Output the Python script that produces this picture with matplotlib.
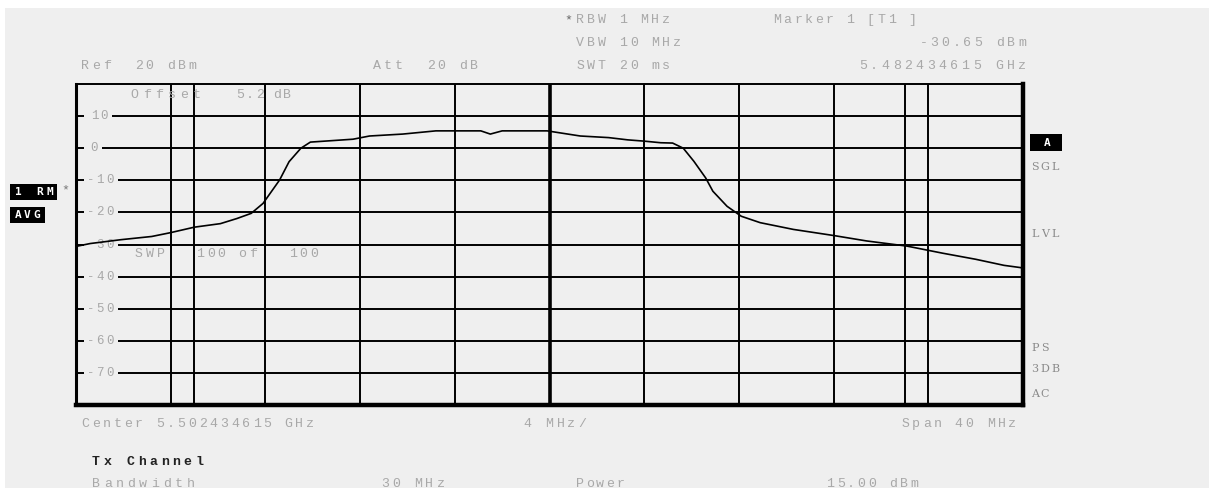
import matplotlib
matplotlib.use("Agg")
import matplotlib.pyplot as plt                                                         # type: ignore
from matplotlib.patches import Rectangle                                                # type: ignore

# Trace data: offset from centre frequency (MHz) and level (dBm)
freq_offset = [-20.0, -19.4, -18.1, -16.8, -16.0, -15.0, -13.9, -13.2, -12.6, -12.1,
               -11.4, -11.0, -10.5, -10.1, -8.3, -7.6, -6.2, -4.8, -2.9, -2.5,
               -2.0, -0.1, 0.6, 1.3, 2.5, 3.3, 4.0, 4.7, 5.2, 5.65,
               6.1, 6.6, 6.9, 7.5, 8.1, 8.9, 10.3, 12.0, 13.4, 15.1,
               16.6, 18.0, 19.2, 19.9, 20.0]
level_dbm = [-30.6, -29.7, -28.5, -27.5, -26.3, -24.6, -23.5, -21.9, -20.3, -17.2,
             -9.9, -4.2, 0.0, 1.9, 2.8, 3.8, 4.4, 5.4, 5.4, 4.4,
             5.4, 5.4, 4.6, 3.8, 3.3, 2.6, 2.2, 1.7, 1.6, 0.0,
             -4.1, -9.3, -13.4, -18.1, -21.2, -23.2, -25.3, -27.2, -28.9, -30.5,
             -32.7, -34.6, -36.5, -37.2, -37.4]

y_levels = [10, 0, -10, -20, -30, -40, -50, -60, -70]
y_labels = ["10", "0", "-10", "-20", "-30", "-40", "-50", "-60", "-70"]
div_lines = [-16, -12, -8, -4, 4, 8, 12, 16]
channel_edges = [-15, 15]

# Layout in pixels
W, H = 1209, 488
L, R, T, B = 76, 1023, 84, 405
BG = "#efefef"
GRAY = "#a8a8a8"
PITCH = 10.7
FS = 9.5

fig = plt.figure(figsize=(W / 100, H / 100), dpi=100, facecolor="white")
fig.add_artist(Rectangle((5 / W, 0), 1, 1 - 8 / H, transform=fig.transFigure,
                         facecolor=BG, edgecolor="none", zorder=-10))

ax = fig.add_axes([L / W, 1 - B / H, (R - L) / W, (B - T) / H])
ax.set_facecolor(BG)
ax.set_xlim(-20, 20)
ax.set_ylim(-80, 20)
ax.set_xticks([])
ax.set_yticks([])
ax.spines["left"].set_linewidth(2.2)
ax.spines["top"].set_linewidth(1.4)
ax.spines["right"].set_linewidth(3.2)
ax.spines["bottom"].set_linewidth(3.2)

for lv in y_levels:
    ax.axhline(lv, color="black", lw=1.4, zorder=1)
for f in div_lines + channel_edges:
    ax.axvline(f, color="black", lw=1.4, zorder=1)
ax.axvline(0, color="black", lw=2.6, zorder=1)

ax.plot(freq_offset, level_dbm, color="black", lw=1.2, zorder=4)


def mono(where, x, y, s, color=GRAY, size=FS, pitch=PITCH, weight="normal",
         family="Liberation Mono", zorder=3):
    """Draw text char by char on a fixed pitch, x/y in pixels from top-left."""
    for i, ch in enumerate(s):
        if ch == " ":
            continue
        where.text((x + (i + 0.5) * pitch) / W, 1 - y / H, ch, transform=fig.transFigure,
                   ha="center", va="center", color=color, fontsize=size,
                   fontweight=weight, family=family, zorder=zorder)


def mask(where, x0, x1, y, h=10):
    where.add_artist(Rectangle((x0 / W, 1 - (y + h / 2) / H), (x1 - x0) / W, h / H,
                               transform=fig.transFigure, facecolor=BG,
                               edgecolor="none", zorder=2))


def box(x0, y0, x1, y1, s, pitch=9.5):
    fig.add_artist(Rectangle((x0 / W, 1 - y1 / H), (x1 - x0) / W, (y1 - y0) / H,
                             transform=fig.transFigure, facecolor="black",
                             edgecolor="none", zorder=2))
    mono(fig, x0 + 3, (y0 + y1) / 2, s, color="white", size=8, pitch=pitch,
         weight="bold", family="DejaVu Sans Mono")


# Y labels inside the grid
for lv, lab in zip(y_levels, y_labels):
    py = B - (lv + 80) / 100 * (B - T)
    x0 = 90 if lab == "10" else (89 if lab == "0" else 86)
    mask(ax, 84, x0 + len(lab) * 9.5 + 3, py)
    mono(ax, x0, py, lab, pitch=9.5, size=9)

# Text inside plot
mono(ax, 128, 95, "Offset", pitch=12.5)
mono(ax, 235, 95, "5.2", pitch=10)
mono(ax, 272, 95, "dB", pitch=10)
mono(ax, 133, 254, "SWP", pitch=11)
mono(ax, 195, 254, "100 of", pitch=10.5)
mono(ax, 288, 254, "100", pitch=10.5)

# Header
mono(fig, 80, 66, "Ref  20 dBm")
mono(fig, 372, 66, "Att  20 dB")
mono(fig, 563, 20, "*", color="#666666")
mono(fig, 575, 20, "RBW 1 MHz")
mono(fig, 575, 43, "VBW 10 MHz")
mono(fig, 575, 66, "SWT 20 ms")
mono(fig, 772, 20, "Marker 1 [T1 ]", pitch=10.4)
mono(fig, 1028 - 10 * 11.0, 43, "-30.65 dBm", pitch=11.0)
mono(fig, 1028 - 15 * 11.4, 66, "5.482434615 GHz", pitch=11.4)

# Left side labels
box(10, 184, 57, 200, "1 RM", pitch=10.5)
mono(fig, 60, 190, "*", color="#777777")
box(10, 207, 45, 223, "AVG", pitch=9.5)

# Right side labels
box(1030, 134, 1062, 151, " A", pitch=9.5)
for lab, py in [("SGL", 167), ("LVL", 234), ("PS", 348), ("3DB", 369), ("AC", 394)]:
    mono(fig, 1030, py, lab, color="#8a8a8a", pitch=10, family="DejaVu Serif", size=8)

# Footer
mono(fig, 80, 424, "Center 5.502434615 GHz")
mono(fig, 522, 424, "4 MHz/", pitch=11)
mono(fig, 900, 424, "Span 40 MHz")
mono(fig, 90, 462, "Tx Channel", color="#222222", weight="bold", pitch=11.5)
mono(fig, 90, 484, "Bandwidth", pitch=11.8)
mono(fig, 380, 484, "30 MHz", pitch=11)
mono(fig, 575, 484, "Power", pitch=10)
mono(fig, 825, 484, "15.00 dBm", pitch=10.5)

fig.savefig("out.png", dpi=100, facecolor=fig.get_facecolor())
